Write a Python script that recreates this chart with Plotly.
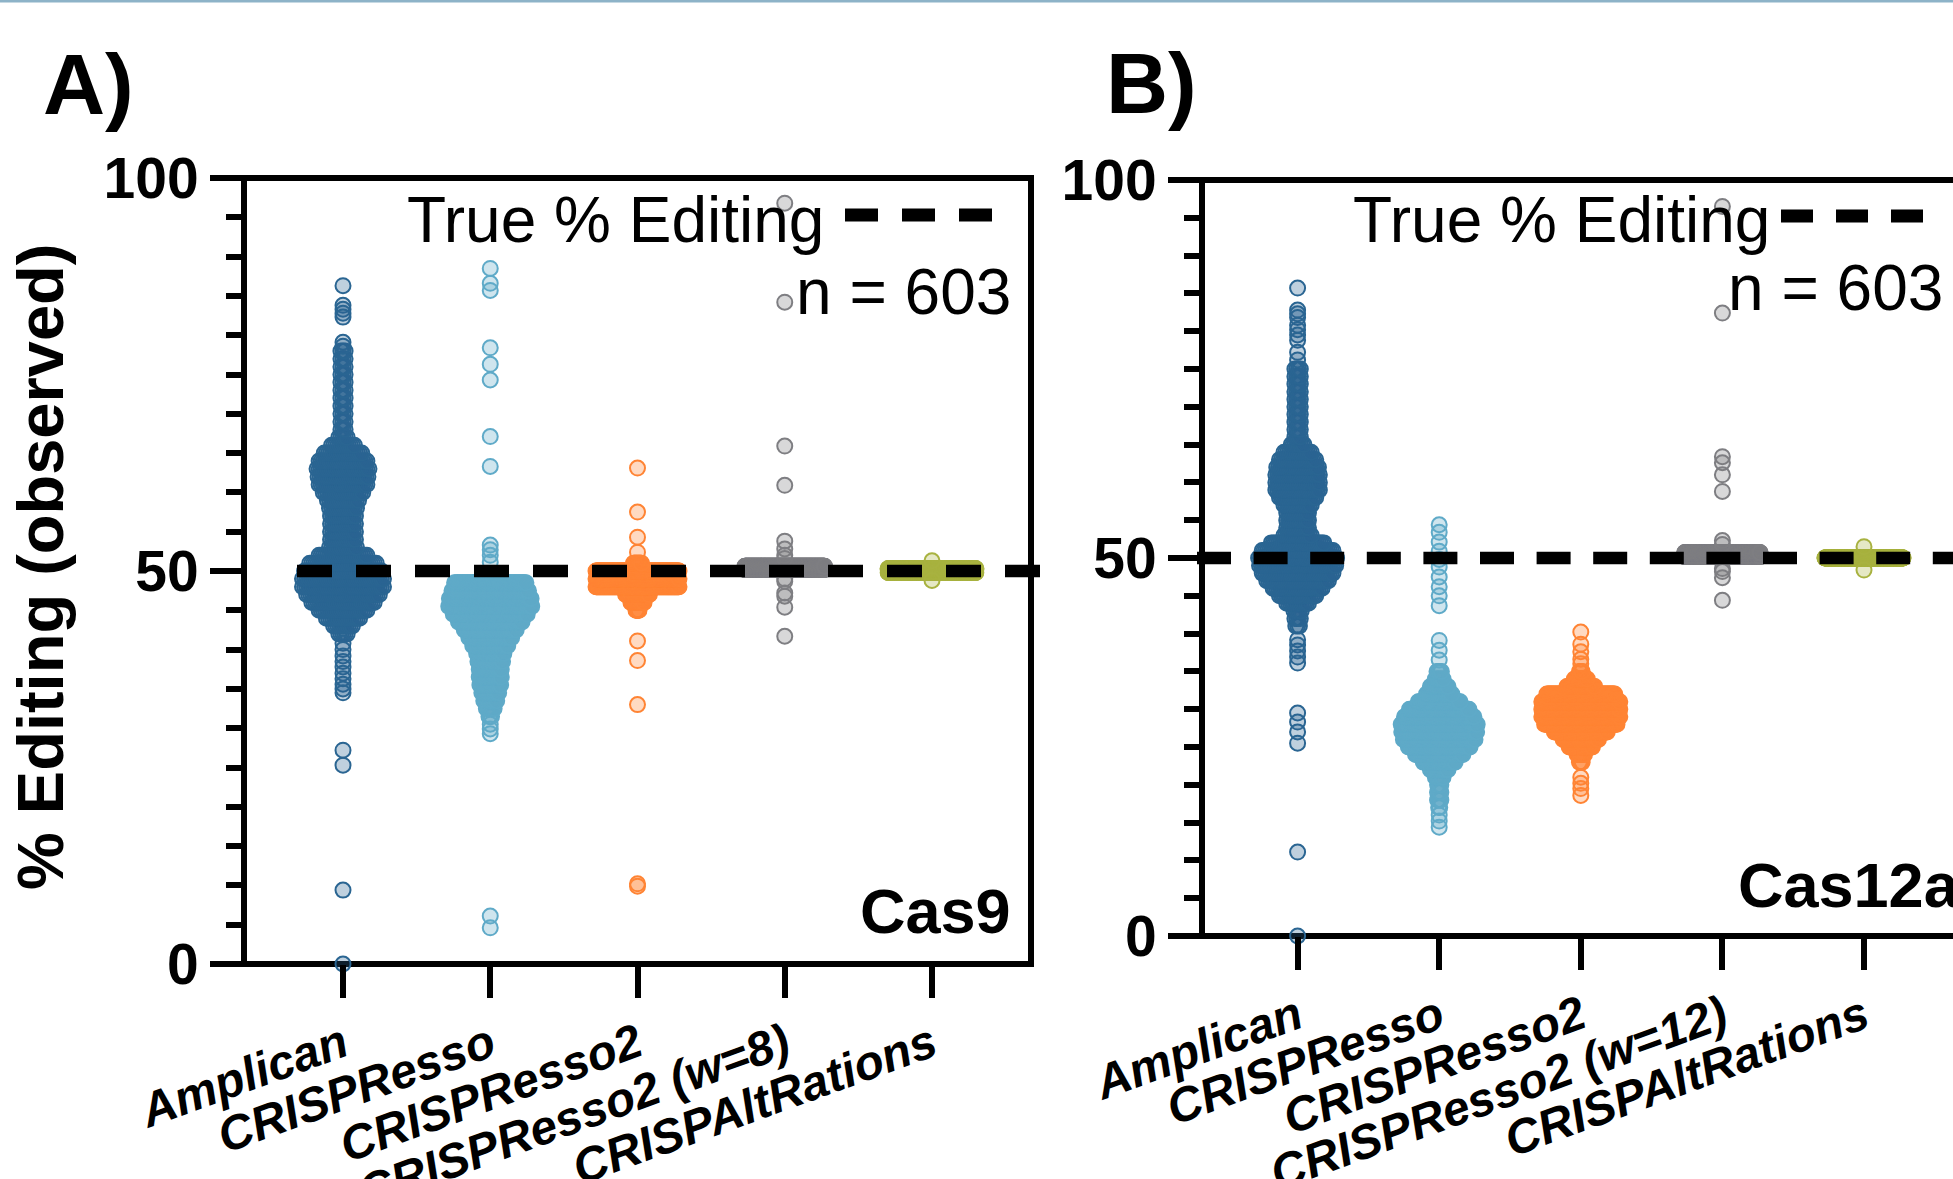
import numpy as np
import plotly.graph_objects as go

W, H = 1953, 1179

# ---------------- data ----------------
categories_cas9 = ["Amplican", "CRISPResso", "CRISPResso2", "CRISPResso2 (w=8)", "CRISPAltRations"]
categories_cas12a = ["Amplican", "CRISPResso", "CRISPResso2", "CRISPResso2 (w=12)", "CRISPAltRations"]
y_ticks = [0, 50, 100]
true_editing = 50
n_text = "n = 603"

# Cas9 (panel A): dense rows (value level, number of reads at that level) + isolated points
cas9_amplican_levels = [42, 43, 44, 45, 46, 47, 48, 49, 50, 51, 52, 53, 54, 55, 56, 57, 58, 59, 60,
                        61, 62, 63, 64, 65, 66, 67, 68, 69, 70, 71, 72, 73, 74, 75, 76, 77, 78]
cas9_amplican_counts = [5, 10, 17, 24, 31, 36, 40, 40, 38, 33, 24, 14, 13, 13, 13, 13, 14, 16, 20,
                        24, 25, 26, 24, 19, 12, 5, 3, 3, 3, 3, 3, 3, 3, 3, 3, 3, 3]
cas9_amplican_single = [86.3, 83.8, 83.3, 82.8, 82.3, 79.1, 78.6, 40.8, 40.0, 39.2, 38.5, 37.8,
                        37.0, 36.3, 35.6, 35.0, 34.5, 27.2, 25.3, 9.4, 0.0]

cas9_crispresso_levels = [30.5, 31.5, 32.5, 33.5, 34.5, 35.5, 36.5, 37.5, 38.5, 39.5, 40.5, 41.5,
                          42.5, 43.5, 44.5, 45.5, 46.5, 47.5, 48.5]
cas9_crispresso_counts = [1, 3, 7, 11, 14, 17, 18, 18, 20, 22, 28, 34, 41, 50, 58, 65, 64, 60, 56]
cas9_crispresso_single = [88.5, 86.6, 85.7, 78.4, 76.3, 74.3, 67.1, 63.3, 53.3, 52.7, 52.0, 51.1,
                          29.9, 29.3, 6.1, 4.6]

cas9_crispresso2_levels = [45, 46, 47, 48, 49, 50, 51]
cas9_crispresso2_counts = [7, 27, 48, 165, 165, 165, 17]
cas9_crispresso2_single = [63.1, 57.5, 54.3, 52.4, 41.1, 38.6, 33.0, 10.2, 9.9]

cas9_w8_levels = [50.2, 50.6]
cas9_w8_counts = [295, 294]
cas9_w8_single = [96.8, 84.2, 65.9, 60.9, 53.8, 52.8, 52.0, 51.6, 49.0, 48.7, 47.2, 46.8, 45.4, 41.7]

cas9_altr_levels = [49.8, 50.3]
cas9_altr_counts = [300, 301]
cas9_altr_single = [51.3, 48.8]

# Cas12a (panel B)
cas12a_amplican_levels = [41, 42, 43, 44, 45, 46, 47, 48, 49, 50, 51, 52, 53, 54, 55, 56, 57, 58,
                          59, 60, 61, 62, 63, 64, 65, 66, 67, 68, 69, 70, 71, 72, 73, 74, 75]
cas12a_amplican_counts = [3, 4, 5, 13, 21, 28, 35, 40, 43, 44, 40, 30, 16, 13, 13, 13, 16, 21,
                          25, 25, 25, 24, 21, 16, 8, 4, 4, 4, 4, 4, 4, 4, 4, 4, 4]
cas12a_amplican_single = [85.7, 82.8, 82.3, 81.8, 80.8, 80.2, 79.5, 78.8, 77.2, 76.2, 39.2, 38.5,
                          37.7, 36.9, 36.1, 29.5, 28.3, 27.0, 25.5, 11.1, 0.0]

cas12a_crispresso_levels = [16, 17, 18, 19, 20, 21, 22, 23, 24, 25, 26, 27, 28, 29, 30, 31, 32, 33, 34, 35]
cas12a_crispresso_counts = [1, 2, 4, 4, 4, 8, 17, 30, 44, 57, 66, 69, 70, 64, 55, 39, 24, 17, 8, 5]
cas12a_crispresso_single = [54.4, 53.4, 52.1, 50.9, 49.8, 48.8, 47.5, 46.2, 45.0, 43.7, 39.1, 37.8,
                            36.5, 15.2, 14.4]

cas12a_crispresso2_levels = [23, 24, 25, 26, 27, 28, 29, 30, 31, 32, 33, 34, 35]
cas12a_crispresso2_counts = [4, 9, 26, 39, 58, 79, 85, 85, 85, 74, 31, 15, 4]
cas12a_crispresso2_single = [40.2, 38.6, 37.6, 36.6, 36.0, 21.0, 20.2, 19.5, 18.6]

cas12a_w12_levels = [50.2, 50.7]
cas12a_w12_counts = [296, 295]
cas12a_w12_single = [96.5, 82.4, 63.4, 62.6, 61.0, 58.8, 52.3, 51.8, 48.6, 48.2, 47.4, 44.4]

cas12a_altr_levels = [50.0]
cas12a_altr_counts = [601]
cas12a_altr_single = [51.5, 48.4]

cas9_groups = [
    (cas9_amplican_levels, cas9_amplican_counts, cas9_amplican_single),
    (cas9_crispresso_levels, cas9_crispresso_counts, cas9_crispresso_single),
    (cas9_crispresso2_levels, cas9_crispresso2_counts, cas9_crispresso2_single),
    (cas9_w8_levels, cas9_w8_counts, cas9_w8_single),
    (cas9_altr_levels, cas9_altr_counts, cas9_altr_single),
]
cas12a_groups = [
    (cas12a_amplican_levels, cas12a_amplican_counts, cas12a_amplican_single),
    (cas12a_crispresso_levels, cas12a_crispresso_counts, cas12a_crispresso_single),
    (cas12a_crispresso2_levels, cas12a_crispresso2_counts, cas12a_crispresso2_single),
    (cas12a_w12_levels, cas12a_w12_counts, cas12a_w12_single),
    (cas12a_altr_levels, cas12a_altr_counts, cas12a_altr_single),
]

# ---------------- styling / layout constants ----------------
COLORS = ["#2A6592", "#5FAAC8", "#FF8434", "#7E7E82", "#A8B240"]
FONT = "Liberation Sans, Arial, sans-serif"
MARKER_SIZE = 15
MARKER_LINE = 2
DIAM_PX = MARKER_SIZE + MARKER_LINE
SWARM_W_CAS9 = [98, 100, 100, 97, 105]     # widest row of each swarm, px
SWARM_W_CAS12A = [95, 93, 95, 93, 95]

# plot boxes in pixels (left, right, top, bottom)
A_BOX = (244, 1031, 178, 964)
B_BOX = (1202, 1953, 180, 936)
A_CAT0, A_STEP = 343.0, 147.25
B_CAT0, B_STEP = 1297.6, 141.6


def px(x):
    return x / W


def py(y):
    return 1 - y / H


def rgba(hexc, a):
    h = hexc.lstrip("#")
    r, g, b = int(h[0:2], 16), int(h[2:4], 16), int(h[4:6], 16)
    return f"rgba({r},{g},{b},{a})"


def swarm(levels, counts, single, width_px, px_per_cat):
    maxc = max(counts)
    step = (width_px - DIAM_PX) / max(maxc - 1, 1) / px_per_cat
    xs, ys = [], []
    for lv, c in zip(levels, counts):
        for k in range(c):
            xs.append((k - (c - 1) / 2.0) * step)
            ys.append(lv)
    for v in single:
        xs.append(0.0)
        ys.append(v)
    return np.array(xs), np.array(ys)


fig = go.Figure()

for panel, groups, widths, step_px, xa, ya in [
    ("A", cas9_groups, SWARM_W_CAS9, A_STEP, "x", "y"),
    ("B", cas12a_groups, SWARM_W_CAS12A, B_STEP, "x2", "y2"),
]:
    for i, (lv, ct, sg) in enumerate(groups):
        dx, yv = swarm(lv, ct, sg, widths[i], step_px)
        fig.add_trace(go.Scatter(
            x=i + dx, y=yv, mode="markers", xaxis=xa, yaxis=ya,
            cliponaxis=False, showlegend=False, hoverinfo="skip",
            marker=dict(size=MARKER_SIZE, color=rgba(COLORS[i], 0.3),
                        line=dict(color=COLORS[i], width=MARKER_LINE)),
        ))


def xrange(box, cat0, step):
    l, r = box[0], box[1]
    return [-(cat0 - l) / step, 4 + (r - (cat0 + 4 * step)) / step]


tickfont_x = dict(family=FONT, size=48, color="black", weight="bold", style="italic")
tickfont_y = dict(family=FONT, size=57, color="black", weight="bold")

common_x = dict(tickmode="array", tickvals=[0, 1, 2, 3, 4], ticks="outside", ticklen=33,
                tickwidth=6, tickcolor="black", showline=False, showgrid=False, zeroline=False,
                tickangle=-20, tickfont=tickfont_x, fixedrange=True, automargin=False)
common_y = dict(range=[0, 100], tickmode="array", tickvals=y_ticks, ticks="outside", ticklen=33,
                tickwidth=6, tickcolor="black", showline=False, showgrid=False, zeroline=False,
                tickfont=tickfont_y, automargin=False, fixedrange=True,
                minor=dict(dtick=5, tick0=0, ticks="outside", ticklen=17, tickwidth=6,
                           tickcolor="black", showgrid=False))

fig.update_layout(
    width=W, height=H, margin=dict(l=0, r=0, t=0, b=0, pad=0, autoexpand=False),
    paper_bgcolor="white", plot_bgcolor="white", showlegend=False,
    xaxis=dict(domain=[px(A_BOX[0]), px(A_BOX[1])], range=xrange(A_BOX, A_CAT0, A_STEP),
               ticktext=categories_cas9, anchor="y", **common_x),
    yaxis=dict(domain=[py(A_BOX[3]), py(A_BOX[2])], anchor="x", **common_y),
    xaxis2=dict(domain=[px(B_BOX[0]), 1.0], range=xrange(B_BOX, B_CAT0, B_STEP),
                ticktext=categories_cas12a, anchor="y2", **common_x),
    yaxis2=dict(domain=[py(B_BOX[3]), py(B_BOX[2])], anchor="x2", **common_y),
)

shapes = []
# frames (below the points)
l, r, t, b = A_BOX
shapes.append(dict(type="path", xref="paper", yref="paper", layer="below",
                   path=f"M {px(l)},{py(t)} L {px(r)},{py(t)} L {px(r)},{py(b)} L {px(l)},{py(b)} Z",
                   line=dict(color="black", width=6)))
l, r, t, b = B_BOX
shapes.append(dict(type="path", xref="paper", yref="paper", layer="below",
                   path=f"M {px(1965)},{py(t)} L {px(l)},{py(t)} L {px(l)},{py(b)} L {px(1965)},{py(b)}",
                   line=dict(color="black", width=6)))
# true editing dashed lines (above points)
shapes.append(dict(type="line", xref="paper", yref="y", x0=px(297), x1=px(1040),
                   y0=true_editing, y1=true_editing, layer="above",
                   line=dict(color="black", width=12.5, dash="35px,24px")))
shapes.append(dict(type="line", xref="paper", yref="y2", x0=px(1197), x1=px(1980),
                   y0=true_editing, y1=true_editing, layer="above",
                   line=dict(color="black", width=12.5, dash="34px,22.6px")))
# legend samples
shapes.append(dict(type="line", xref="paper", yref="paper", x0=px(845), x1=px(992),
                   y0=py(215), y1=py(215), line=dict(color="black", width=13, dash="33px,24px")))
shapes.append(dict(type="line", xref="paper", yref="paper", x0=px(1781), x1=px(1924),
                   y0=py(216), y1=py(216), line=dict(color="black", width=13, dash="32px,23px")))
# thin top border
shapes.append(dict(type="line", xref="paper", yref="paper", x0=0, x1=1, y0=py(1), y1=py(1),
                   line=dict(color="#8DB3C8", width=3)))
fig.update_layout(shapes=shapes)


def ann(text, x, baseline, size, anchor, bold=False, angle=0):
    return dict(text=text, x=px(x), y=py(baseline - 0.3465 * size), xref="paper", yref="paper",
                xanchor=anchor, yanchor="middle", showarrow=False, textangle=angle,
                borderpad=0,
                font=dict(family=FONT, size=size, color="black",
                          weight="bold" if bold else "normal"))


annotations = [
    ann("A)", 42, 114, 86, "left", bold=True),
    ann("B)", 1105, 113, 86, "left", bold=True),
    ann("True % Editing", 825, 242, 64, "right"),
    ann(n_text, 1012, 314, 64, "right"),
    ann("Cas9", 1012, 933, 63, "right", bold=True),
    ann("True % Editing", 1771, 242, 64, "right"),
    ann(n_text, 1944, 310, 64, "right"),
    ann("Cas12a", 1737, 907, 63, "left", bold=True),
    dict(text="% Editing (observed)", x=px(40), y=py(567), xref="paper", yref="paper",
         xanchor="center", yanchor="middle", showarrow=False, textangle=-90, borderpad=0,
         font=dict(family=FONT, size=65, color="black", weight="bold")),
]
fig.update_layout(annotations=annotations)

fig.write_html(
    "out.html",
    config={"displayModeBar": False, "staticPlot": True},
    post_script="document.body.style.margin='0px';document.body.style.overflow='hidden';",
)
